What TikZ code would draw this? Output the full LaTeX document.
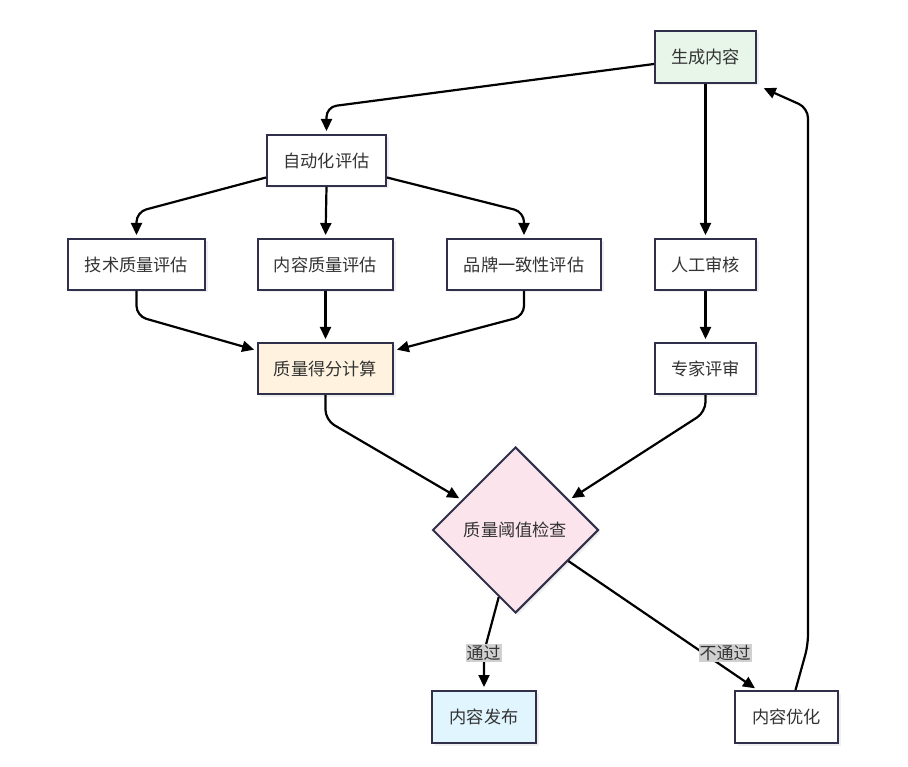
\documentclass[tikz,border=0pt]{standalone}
\usepackage{fontspec}
\setmainfont{Noto Sans CJK SC}
\usetikzlibrary{arrows.meta,shapes.geometric,shadows,calc}
\definecolor{bordc}{HTML}{30304A}
\definecolor{txtc}{HTML}{333333}
\definecolor{gfill}{HTML}{E8F5E9}
\definecolor{ofill}{HTML}{FFF3E0}
\definecolor{pfill}{HTML}{FCE4EC}
\definecolor{bfill}{HTML}{E1F5FE}
\definecolor{lblfill}{HTML}{D0D0D0}
\tikzset{
  box/.style={draw=bordc, line width=2pt, fill=white, rectangle, inner sep=0pt,
    minimum height=51pt, font=\fontsize{17.2}{19}\selectfont, text=txtc,
    drop shadow={shadow xshift=2.5pt, shadow yshift=-2.5pt, opacity=0.12}},
  dia/.style={draw=bordc, line width=2pt, fill=pfill, diamond, inner sep=0pt,
    minimum width=166pt, minimum height=166pt, font=\fontsize{17.2}{19}\selectfont, text=txtc,
    drop shadow={shadow xshift=2.5pt, shadow yshift=-2.5pt, opacity=0.12}},
  arr/.style={line width=2.2pt, draw=black, rounded corners=10pt,
    -{Triangle[length=12pt,width=11pt]}, shorten >=3pt},
  lbl/.style={fill=lblfill, inner sep=1pt, font=\fontsize{17}{19}\selectfont, text=txtc}
}
\begin{document}
\begin{tikzpicture}[x=1pt,y=-1pt]
\useasboundingbox (0,0) rectangle (908,767);
\fill[white] (0,0) rectangle (908,767);

\node[box, fill=gfill, minimum width=101pt, minimum height=52pt] (gen) at (705.5,57) {生成内容};
\node[box, minimum width=119pt] (auto) at (326.5,160.5) {自动化评估};
\node[box, minimum width=137pt] (tech) at (136.5,264.5) {技术质量评估};
\node[box, minimum width=135pt] (cont) at (325.5,264.5) {内容质量评估};
\node[box, minimum width=154pt] (brand) at (524,264.5) {品牌一致性评估};
\node[box, minimum width=101pt] (human) at (705.5,264.5) {人工审核};
\node[box, fill=ofill, minimum width=135pt] (score) at (325.5,368.5) {质量得分计算};
\node[box, minimum width=101pt] (expert) at (705.5,368.5) {专家评审};
\node[dia] (check) at (515.5,530) {质量阈值检查};
\node[box, fill=bfill, minimum width=104pt, minimum height=52pt] (pub) at (484,717) {内容发布};
\node[box, minimum width=103pt, minimum height=52pt] (opt) at (786.5,717) {内容优化};

% edges
\draw[arr] ([yshift=-7pt]gen.west) -- (326.5,107) -- (auto.north);
\draw[arr] (gen.south) -- (human.north);
\draw[arr] ([yshift=-17pt]auto.west) -- (136.5,212) -- (tech.north);
\draw[arr] (auto.south) -- (cont.north);
\draw[arr] ([yshift=-17pt]auto.east) -- (524,212) -- (brand.north);
\draw[arr] (tech.south) -- (136.5,316) -- ([yshift=18pt]score.west);
\draw[arr] (cont.south) -- (score.north);
\draw[arr] (brand.south) -- (524,316) -- ([yshift=18pt]score.east);
\draw[arr] (human.south) -- (expert.north);
\draw[arr] (score.south) -- (325.5,420) -- ($(check.north)!0.64!(check.west)$);
\draw[arr] (expert.south) -- (705.5,412) -- ($(check.north)!0.64!(check.east)$);
\draw[arr] ($(check.south)!0.2!(check.west)$) -- (484,652) -- (pub.north);
\node[lbl] (lpass) at (483.5,653) {通过};
\draw[arr] ($(check.south)!0.63!(check.east)$) -- ([xshift=-29pt]opt.north);
\node[lbl] (lfail) at (725,653) {不通过};
\draw[arr] ([xshift=9pt]opt.north) -- (808,645) -- (808,108) -- ([xshift=4pt,yshift=-3pt]gen.south east);
\end{tikzpicture}
\end{document}
